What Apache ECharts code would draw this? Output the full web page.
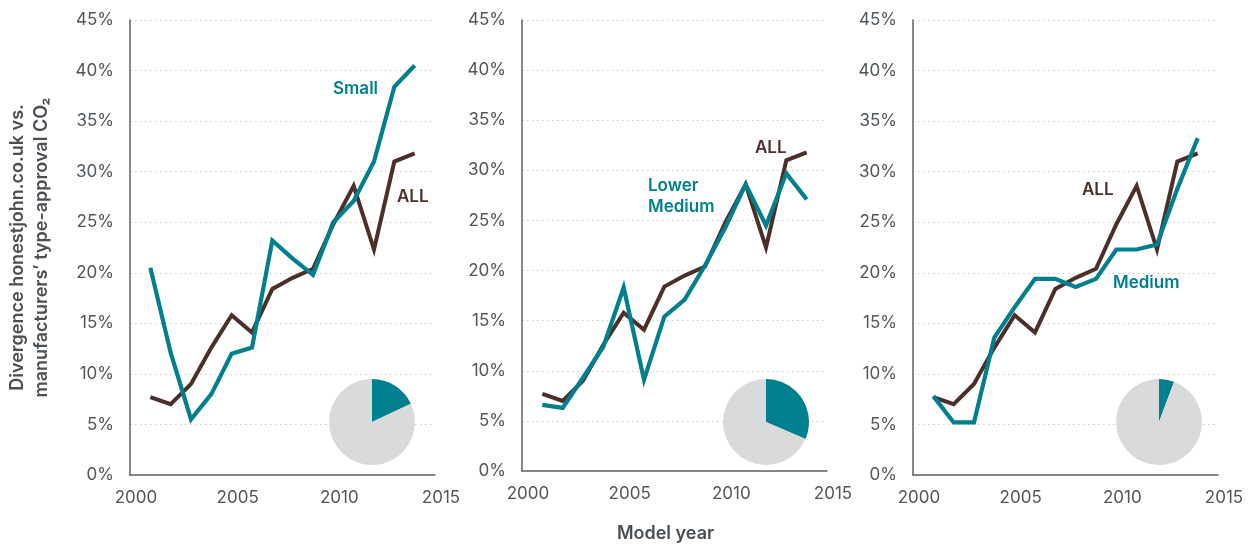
<!DOCTYPE html>
<html>
<head>
<meta charset="utf-8">
<script src="https://cdn.jsdelivr.net/npm/echarts@6/dist/echarts.min.js"></script>
<style>
  html, body { margin: 0; padding: 0; background: #fff; }
  #chart { width: 1255px; height: 548px; }
</style>
</head>
<body>
<div id="chart"></div>
<script>
// model years and divergence values (%)
const years = [2001, 2002, 2003, 2004, 2005, 2006, 2007, 2008, 2009, 2010, 2011, 2012, 2013, 2014];
const allValues = [7.7, 7.0, 9.0, 12.6, 15.8, 14.1, 18.4, 19.5, 20.4, 24.8, 28.6, 22.3, 31.0, 31.8];
const smallValues = [20.5, 12.1, 5.5, 8.0, 12.0, 12.6, 23.2, 21.4, 19.8, 25.0, 27.1, 31.0, 38.4, 40.5];
const lowerMediumValues = [6.6, 6.3, 9.3, 12.4, 18.3, 9.1, 15.4, 17.1, 20.5, 24.3, 28.6, 24.5, 29.7, 27.1];
const mediumValues = [7.8, 5.2, 5.2, 13.6, 16.6, 19.4, 19.4, 18.6, 19.4, 22.3, 22.3, 22.8, 28.3, 33.3];
const segmentNames = ['Small', 'Lower Medium', 'Medium'];
const segmentShares = [18, 31.5, 5.7]; // share of segment in the fleet, %
const xTicks = [2000, 2005, 2010, 2015];
const yTicks = [0, 5, 10, 15, 20, 25, 30, 35, 40, 45];

const TEAL = '#007f8f';
const BROWN = '#4b2f28';
const AXIS = '#5d636a';
const TEXT = '#50565c';
const FONT = 'Inter, "Noto Sans", sans-serif';

const chart = echarts.init(document.getElementById('chart'));

const lefts = [130, 522, 913];
const pieCenters = [[372, 422], [766, 422], [1159, 422]];
const segmentValues = [smallValues, lowerMediumValues, mediumValues];

const pairs = vals => years.map((y, i) => [y, vals[i]]);

const grids = lefts.map(l => ({ left: l, top: 20, width: 305, height: 455 }));

const xAxes = lefts.map((l, i) => ({
  type: 'value', gridIndex: i, min: 2000, max: 2015, interval: 5,
  axisLine: { show: true, lineStyle: { color: AXIS, width: 1.5 } },
  axisTick: { show: false },
  splitLine: { show: false },
  axisLabel: {
    customValues: xTicks, showMaxLabel: true, showMinLabel: true,
    color: TEXT, fontFamily: FONT, fontSize: 17, margin: 14,
    padding: [0, 0, 0, 12], formatter: v => String(v)
  },
  name: i === 1 ? 'Model year' : '',
  nameLocation: 'middle', nameGap: 54,
  nameTextStyle: { color: '#4a4f55', fontFamily: FONT, fontSize: 18, fontWeight: 600, padding: [0, 18, 0, 0] }
}));

const yAxes = lefts.map((l, i) => ({
  type: 'value', gridIndex: i, min: 0, max: 45, interval: 5,
  axisLine: { show: true, lineStyle: { color: AXIS, width: 1.5 } },
  axisTick: { show: false },
  splitLine: { show: true, lineStyle: { color: '#c9cbcd', width: 1.2, type: [1.5, 3.5] } },
  axisLabel: { color: TEXT, fontFamily: FONT, fontSize: 17, margin: 16, formatter: '{value}%' },
  name: i === 0 ? 'Divergence honestjohn.co.uk vs.\nmanufacturers’ type-approval CO₂' : '',
  nameLocation: 'middle', nameRotate: 90, nameGap: 76,
  nameTextStyle: { color: '#4a4f55', fontFamily: FONT, fontSize: 18, fontWeight: 600, lineHeight: 24, align: 'center' }
}));

const series = [];
lefts.forEach((l, i) => {
  series.push({
    name: 'ALL', type: 'line', xAxisIndex: i, yAxisIndex: i,
    data: pairs(allValues), symbol: 'none', silent: true,
    lineStyle: { color: BROWN, width: 4, join: 'miter' }
  });
  series.push({
    name: segmentNames[i], type: 'line', xAxisIndex: i, yAxisIndex: i,
    data: pairs(segmentValues[i]), symbol: 'none', silent: true,
    lineStyle: { color: TEAL, width: 4.2, join: 'miter' }
  });
  series.push({
    type: 'pie', center: pieCenters[i], radius: 43, startAngle: 90, clockwise: true,
    silent: true, label: { show: false }, labelLine: { show: false },
    data: [
      { value: segmentShares[i], itemStyle: { color: TEAL } },
      { value: 100 - segmentShares[i], itemStyle: { color: '#d9dadc' } }
    ]
  });
});

const label = (text, x, y, color) => ({
  type: 'text', x: x, y: y,
  style: { text: text, fill: color, font: '600 17px ' + FONT, textVerticalAlign: 'middle', lineHeight: 21 }
});

chart.setOption({
  animation: false,
  grid: grids,
  xAxis: xAxes,
  yAxis: yAxes,
  series: series,
  graphic: [
    label('Small', 333, 89, TEAL),
    label('ALL', 397, 197, BROWN),
    label('ALL', 755, 148, BROWN),
    label('Lower\nMedium', 648, 196, TEAL),
    label('ALL', 1082, 190, BROWN),
    label('Medium', 1113, 283, TEAL)
  ]
});
</script>
</body>
</html>
